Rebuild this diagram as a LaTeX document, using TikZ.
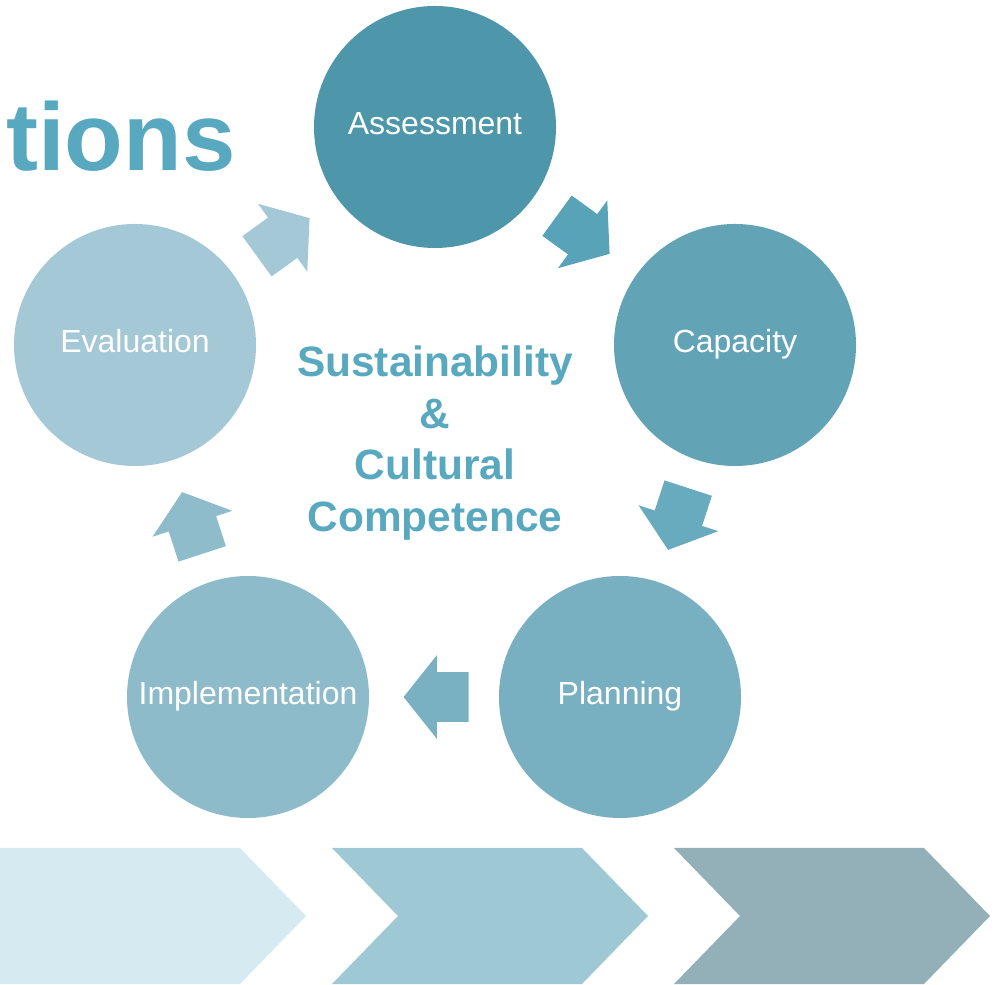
\documentclass[tikz,border=0pt]{standalone}
\usepackage{fontspec}
\setmainfont{Liberation Sans}
\usetikzlibrary{shapes.arrows,calc}

\definecolor{assesscol}{HTML}{4E97AA}
\definecolor{capaccol}{HTML}{63A3B6}
\definecolor{plancol}{HTML}{78AFC1}
\definecolor{implcol}{HTML}{8DBBCA}
\definecolor{evalcol}{HTML}{A5C8D6}
\definecolor{arrowA}{HTML}{A5C8D6}
\definecolor{arrowB}{HTML}{58A3B8}
\definecolor{arrowC}{HTML}{69ABBE}
\definecolor{arrowD}{HTML}{79B1C3}
\definecolor{arrowE}{HTML}{8EBCCB}
\definecolor{titlecol}{HTML}{58A8BF}
\definecolor{band1}{HTML}{D6EAF1}
\definecolor{band2}{HTML}{9FC8D5}
\definecolor{band3}{HTML}{93AFB7}

\begin{document}
\begin{tikzpicture}[x=0.5pt,y=0.5pt]
\tikzstyle{stage}=[circle,minimum size=121pt,inner sep=0pt,text=white,text height=12pt,text depth=4pt,font=\fontsize{16}{19}\selectfont]
\tikzstyle{turn}=[single arrow,minimum height=32.5pt,inner xsep=0pt,inner ysep=12.25pt,single arrow head extend=8.5pt,single arrow tip angle=103]

\useasboundingbox (0,0) rectangle (994,984);

\fill[band1] (-10,136) -- (240,136) -- (306,68) -- (240,0) -- (-10,0) -- cycle;
\foreach \x/\c in {332/band2,674/band3}
{
  \fill[\c] (\x,136) -- (\x+250,136) -- (\x+316,68) -- (\x+250,0) -- (\x,0) -- (\x+66,68) -- cycle;
}

\node[anchor=base east,inner sep=0pt,text=titlecol,font=\fontsize{48}{58}\selectfont\bfseries] (title) at (236,813) {itions};

\node[stage,fill=assesscol] (assess) at (435,857) {Assessment};
\node[stage,fill=capaccol] (capac) at (735,639) {Capacity};
\node[stage,fill=plancol] (plan) at (620,287) {Planning};
\node[stage,fill=implcol] (impl) at (248,287) {Implementation};
\node[stage,fill=evalcol] (eval) at (135,639) {Evaluation};

\node[turn,fill=arrowA,rotate=36,xshift=-6pt] (evaltoassess) at ($(eval)!0.5!(assess)$) {};
\node[turn,fill=arrowB,rotate=-36,xshift=-6pt] (assesstocapac) at ($(assess)!0.5!(capac)$) {};
\node[turn,fill=arrowC,rotate=-108,xshift=-6pt] (capactoplan) at ($(capac)!0.5!(plan)$) {};
\node[turn,fill=arrowD,rotate=180,xshift=-6pt] (plantoimpl) at ($(plan)!0.5!(impl)$) {};
\node[turn,fill=arrowE,rotate=108,xshift=-6pt] (impltoeval) at ($(impl)!0.5!(eval)$) {};

\node[align=center,text=titlecol,font=\fontsize{21.2}{25.9}\selectfont\bfseries] (core) at (435,541) {Sustainability\\\&\\Cultural\\Competence};

\end{tikzpicture}
\end{document}
